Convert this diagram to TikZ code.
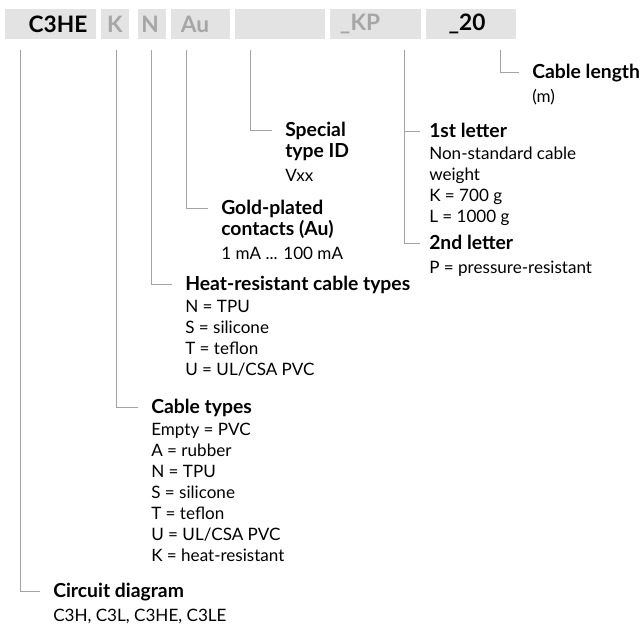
\documentclass[tikz,border=0pt]{standalone}
\usepackage{fontspec}
\setmainfont{Lato}
\usetikzlibrary{positioning}
\definecolor{codefill}{HTML}{E3E3E3}
\definecolor{codegray}{HTML}{A6A6A6}
\definecolor{leadgray}{HTML}{A3A3A3}

\begin{document}
\begin{tikzpicture}[x=0.75pt, y=-0.75pt,
  codebox/.style={fill=codefill, minimum height=22.5pt, inner sep=0pt},
  code/.style={font=\bfseries\fontsize{17}{18}\selectfont, inner sep=0pt},
  head/.style={font=\bfseries\fontsize{14.5}{15.75}\selectfont, inner sep=0pt,
               text height=10.4pt, text depth=0pt, anchor=west},
  desc/.style={font=\fontsize{12.8}{15.75}\selectfont, inner sep=0pt, align=left,
               anchor=north west, yshift=-6.5pt, execute at begin node=\strut},
  lead/.style={draw=leadgray, line width=0.6pt, shorten >=10pt}]
  \path[use as bounding box] (0,0) rectangle (643,624);

  % order code
  \node[codebox, minimum width=68.25pt] (bxcirc) at (50.5,24) {};
  \node[codebox, minimum width=21pt]    (bxcable) at (115,24) {};
  \node[codebox, minimum width=21pt]    (bxheat) at (152,24) {};
  \node[codebox, minimum width=44.25pt] (bxgold) at (200.5,24) {};
  \node[codebox, minimum width=67.5pt]  (bxspec) at (280,24) {};
  \node[codebox, minimum width=68.25pt] (bxweight) at (375.5,24) {};
  \node[codebox, minimum width=67.5pt]  (bxlen) at (471,24) {};
  \node[code] (txcirc) at (58,24) {C3HE};
  \node[code, text=codegray] (txcable) at (bxcable) {K};
  \node[code, text=codegray] (txheat) at (150,24) {N};
  \node[code, text=codegray] (txgold) at (195,24) {Au};
  \node[code, text=codegray] (txweight) at (360,24) {\_KP};
  \node[code] (txlen) at (467,24) {\_20};

  \foreach \n/\x in {circ/20, cable/116, heat/151, gold/186, spec/250, weight/404, len/500}
    \coordinate (top\n) at (\x,50);

  % explanations
  \node[head] (length) at (532,72) {Cable length};
  \node[desc] (lengthtxt) at (length.south west) {(m)};

  \node[head] (first) at (429,131) {1st letter};
  \node[desc] (firsttxt) at (first.south west)
    {Non-standard cable\\weight\\K = 700 g\\L = 1000 g};
  \node[head] (second) at (429,243) {2nd letter};
  \node[desc] (secondtxt) at (second.south west) {P = pressure-resistant};

  \node[head] (special) at (285,130) {Special};
  \node[head] (specialb) at (285,151) {type ID};
  \node[desc] (specialtxt) at (specialb.south west) {Vxx};

  \node[head] (gold) at (221,208) {Gold-plated};
  \node[head] (goldb) at (221,229) {contacts (Au)};
  \node[desc] (goldtxt) at (goldb.south west) {1 mA ... 100 mA};

  \node[head] (heat) at (185,284) {Heat-resistant cable types};
  \node[desc] (heattxt) at (heat.south west)
    {N = TPU\\S = silicone\\T = teflon\\U = UL/CSA PVC};

  \node[head] (cable) at (151,407) {Cable types};
  \node[desc] (cabletxt) at (cable.south west)
    {Empty = PVC\\A = rubber\\N = TPU\\S = silicone\\T = teflon\\U = UL/CSA PVC\\K = heat-resistant};

  \node[head] (circuit) at (53,591) {Circuit diagram};
  \node[desc] (circuittxt) at (circuit.south west) {C3H, C3L, C3HE, C3LE};

  % leaders
  \draw[lead] (toplen) |- (length.west);
  \draw[lead, shorten >=7pt] (topweight) |- (second.west);
  \draw[lead, shorten >=7pt] (topweight |- first.west) -- (first.west);
  \draw[lead] (topspec) |- (special.west);
  \draw[lead] (topgold) |- (gold.west);
  \draw[lead] (topheat) |- (heat.west);
  \draw[lead] (topcable) |- (cable.west);
  \draw[lead] (topcirc) |- (circuit.west);
\end{tikzpicture}
\end{document}
